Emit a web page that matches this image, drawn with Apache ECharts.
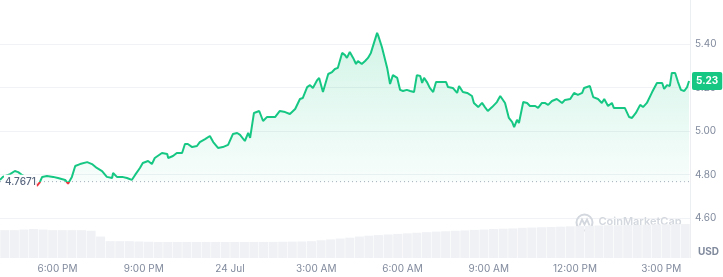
<!DOCTYPE html>
<html>
<head>
<meta charset="utf-8">
<script src="https://cdn.jsdelivr.net/npm/echarts@6/dist/echarts.min.js"></script>
<style>
html,body{margin:0;padding:0;background:#fff;}
#c{width:723px;height:277px;}
</style>
</head>
<body>
<div id="c"></div>
<script>
// ---- data ----
const priceTimes = ['16:00','16:06','16:21','16:31','16:38','16:46','16:58','17:13','17:17','17:23','17:28','17:38','17:51','18:01','18:16','18:22','18:30','18:37','18:47','19:02','19:12','19:22','19:33','19:43','19:54','19:56','20:04','20:15','20:25','20:35','20:42','20:52','20:58','21:09','21:17','21:23','21:38','21:49','21:51','22:01','22:09','22:20','22:26','22:32','22:41','22:51','22:57','23:08','23:12','23:18','23:25','23:35','23:45','23:56','00:06','00:15','00:21','00:25','00:31','00:38','00:42','00:50','01:01','01:09','01:17','01:28','01:34','01:44','01:55','02:05','02:16','02:26','02:32','02:41','02:47','02:53','03:02','03:06','03:14','03:18','03:25','03:33','03:39','03:45','03:54','04:00','04:04','04:10','04:17','04:23','04:27','04:35','04:42','04:48','04:54','04:58','05:07','05:09','05:17','05:19','05:28','05:34','05:40','05:49','05:55','06:01','06:09','06:16','06:24','06:30','06:37','06:41','06:45','06:51','06:57','07:04','07:10','07:18','07:22','07:31','07:35','07:45','07:54','07:58','08:06','08:15','08:19','08:25','08:29','08:38','08:46','08:52','08:58','09:07','09:17','09:24','09:34','09:42','09:49','09:53','09:59','10:03','10:12','10:20','10:26','10:37','10:43','10:51','10:57','11:04','11:12','11:22','11:33','11:39','11:50','11:58','12:06','12:15','12:19','12:31','12:38','12:48','12:56','13:01','13:09','13:17','13:21','13:30','13:44','13:53','13:59','14:07','14:16','14:22','14:30','14:41','14:51','15:02','15:06','15:12','15:18','15:22','15:29','15:35','15:41','15:48','15:54','15:58'];
const prices = [4.775,4.789,4.802,4.816,4.811,4.798,4.780,4.764,4.748,4.764,4.789,4.793,4.789,4.784,4.775,4.758,4.789,4.839,4.848,4.857,4.848,4.830,4.816,4.789,4.784,4.807,4.789,4.789,4.784,4.775,4.798,4.830,4.853,4.862,4.848,4.876,4.899,4.894,4.876,4.885,4.899,4.899,4.940,4.940,4.926,4.931,4.949,4.963,4.954,4.977,4.949,4.922,4.926,4.936,4.986,4.991,4.982,4.991,4.954,4.991,4.968,5.083,5.092,5.046,5.064,5.064,5.064,5.092,5.087,5.078,5.101,5.147,5.152,5.202,5.211,5.198,5.234,5.244,5.179,5.170,5.262,5.271,5.285,5.290,5.359,5.349,5.336,5.363,5.336,5.308,5.322,5.308,5.322,5.336,5.359,5.368,5.451,5.441,5.386,5.382,5.290,5.216,5.257,5.244,5.189,5.184,5.189,5.184,5.179,5.257,5.253,5.221,5.244,5.225,5.198,5.179,5.225,5.225,5.234,5.225,5.202,5.198,5.175,5.207,5.179,5.175,5.175,5.161,5.129,5.110,5.129,5.110,5.092,5.110,5.133,5.161,5.129,5.060,5.041,5.018,5.051,5.037,5.133,5.129,5.115,5.115,5.106,5.129,5.129,5.120,5.138,5.147,5.129,5.143,5.147,5.175,5.166,5.175,5.198,5.207,5.156,5.147,5.129,5.147,5.115,5.129,5.106,5.106,5.106,5.064,5.060,5.083,5.120,5.110,5.129,5.179,5.221,5.221,5.193,5.211,5.207,5.267,5.267,5.225,5.189,5.184,5.202,5.230];
const openPrice = 4.7671;
const openLabel = '4.7671';
const lastLabel = '5.23';
// volume bars, one per 20 minutes from 16:00 (relative units)
const volumes = [48,48,49,50,49,48,48,48,48,47,37,29,29,29,28.5,28,27.6,27.6,27.5,27.5,27.6,27.6,27.5,27.5,27.6,27.6,27.6,27.6,27.8,28,28.2,28.5,29,30.5,32,33.5,35,37,38.5,39.5,40.5,41.5,42.5,43.5,44.5,45.5,46,47,47.5,48.5,49,50,50.5,51,52,52.5,53,53.5,54,54.5,55,55.5,56,56.5,56.5,57,57,57.5,58,58,58.5,58.5];
const yMin = 4.6, yMax = 5.4, yStep = 0.2;
const xTickTimes = ['18:00','21:00','00:00','03:00','06:00','09:00','12:00','15:00'];
const xTickLabels = ['6:00 PM','9:00 PM','24 Jul','3:00 AM','6:00 AM','9:00 AM','12:00 PM','3:00 PM'];

// ---- helpers ----
function toMs(hhmm){
  const p = hhmm.split(':'); const h = +p[0], m = +p[1];
  const day = h >= 16 ? 23 : 24;
  return new Date(2024, 6, day, h, m).getTime();
}
const tStart = new Date(2024, 6, 23, 16, 0).getTime();
const tEnd = new Date(2024, 6, 24, 16, 0).getTime();
const priceData = priceTimes.map((t, i) => [toMs(t), prices[i]]);
const baseData = priceTimes.map((t) => [toMs(t), openPrice]);
const volData = volumes.map((v, i) => [tStart + (i * 20 + 10) * 60000, v]);
const tickMs = xTickTimes.map(toMs);
const labelMap = {}; tickMs.forEach((ms, i) => labelMap[ms] = xTickLabels[i]);

const GREEN = '#16c784', RED = '#ea3943', GRAY = '#808a9d';
const FONT = 'Inter, "Noto Sans", sans-serif';
const H = 277;

const chart = echarts.init(document.getElementById('c'), null, {renderer: 'canvas'});
const option = {
  animation: false,
  backgroundColor: '#ffffff',
  textStyle: {fontFamily: FONT},
  grid: [
    {left: 0, right: 33, top: 44, bottom: 59},
    {left: 0, right: 33, top: 200, bottom: 19}
  ],
  xAxis: [
    {type: 'value', gridIndex: 0, min: tStart, max: tEnd, show: false},
    {type: 'value', gridIndex: 1, min: tStart, max: tEnd,
     axisLine: {show: false}, axisTick: {show: false}, splitLine: {show: false},
     axisLabel: {customValues: tickMs, formatter: v => labelMap[v] || '', color: GRAY,
                 fontSize: 10, margin: 6, fontFamily: FONT, showMinLabel: true, showMaxLabel: true}}
  ],
  yAxis: [
    {type: 'value', gridIndex: 0, position: 'right', min: yMin, max: yMax, interval: yStep,
     axisLine: {show: false}, axisTick: {show: false},
     splitLine: {lineStyle: {color: '#f0f2f5', width: 1}},
     axisLabel: {formatter: v => v.toFixed(2), color: GRAY, fontSize: 10, margin: 5, fontFamily: FONT}},
    {type: 'value', gridIndex: 1, min: 0, max: 100, show: false}
  ],
  series: [
    {
      id: 'price', type: 'line', xAxisIndex: 0, yAxisIndex: 0, data: priceData, clip: false,
      showSymbol: false, symbol: 'none', z: 5,
      lineStyle: {width: 2, color: GREEN},
      areaStyle: {origin: openPrice, color: new echarts.graphic.LinearGradient(0, 0, 0, 1, [
        {offset: 0, color: 'rgba(22,199,132,0.27)'},
        {offset: 1, color: 'rgba(22,199,132,0.04)'}
      ])}
    },
    {
      type: 'line', xAxisIndex: 0, yAxisIndex: 0, data: baseData, showSymbol: false, symbol: 'none',
      silent: true, z: 4, lineStyle: {type: [1, 3], color: '#a6adbd', width: 1},
      markLine: {
        silent: true, symbol: ['none', 'none'], animation: false,
        data: [
          {yAxis: prices[prices.length - 1], lineStyle: {color: 'rgba(0,0,0,0)', width: 0},
           label: {show: true, position: 'end', distance: 2, formatter: lastLabel,
                   backgroundColor: GREEN, color: '#fff', fontWeight: 'bold', fontSize: 10,
                   fontFamily: FONT, padding: [4, 4, 4, 4], borderRadius: 2}}
        ]
      }
    },
    {
      type: 'bar', xAxisIndex: 1, yAxisIndex: 1, data: volData, barWidth: 9,
      itemStyle: {color: '#eff1f4'}, silent: true, z: 1
    }
  ]
};
chart.setOption(option);

const yOpen = chart.convertToPixel({yAxisIndex: 0}, openPrice);
const stop = yOpen / H;
const rightX = 690.5;
chart.setOption({
  series: [{id: 'price', lineStyle: {color: new echarts.graphic.LinearGradient(0, 0, 0, H, [
    {offset: 0, color: GREEN}, {offset: stop, color: GREEN},
    {offset: stop, color: RED}, {offset: 1, color: RED}
  ], true)}}],
  graphic: [
    {type: 'line', silent: true, z: 0, shape: {x1: rightX, y1: 0, x2: rightX, y2: 258},
     style: {stroke: '#eceef2', lineWidth: 1}},
    {type: 'text', z: 10, left: 4, top: yOpen - 7,
     style: {text: openLabel, fill: '#58667e', font: '500 10px ' + FONT,
             backgroundColor: '#fff', padding: [2, 1, 2, 1]}},
    {type: 'text', z: 10, left: 698, top: 247,
     style: {text: 'USD', fill: GRAY, font: 'bold 10px ' + FONT}},
    {type: 'group', z: 2, left: 574, top: 212, children: [
      {type: 'circle', shape: {cx: 9, cy: 9, r: 8}, style: {fill: 'none', stroke: '#d3d7de', lineWidth: 2}},
      {type: 'polyline', shape: {points: [[4, 12], [6.5, 6], [9, 11], [11.5, 6], [14, 12]]},
       style: {fill: 'none', stroke: '#d3d7de', lineWidth: 1.8}},
      {type: 'text', left: 23, top: 3, style: {text: 'CoinMarketCap', fill: '#d3d7de', font: '600 11px ' + FONT}}
    ]}
  ]
});
</script>
</body>
</html>
